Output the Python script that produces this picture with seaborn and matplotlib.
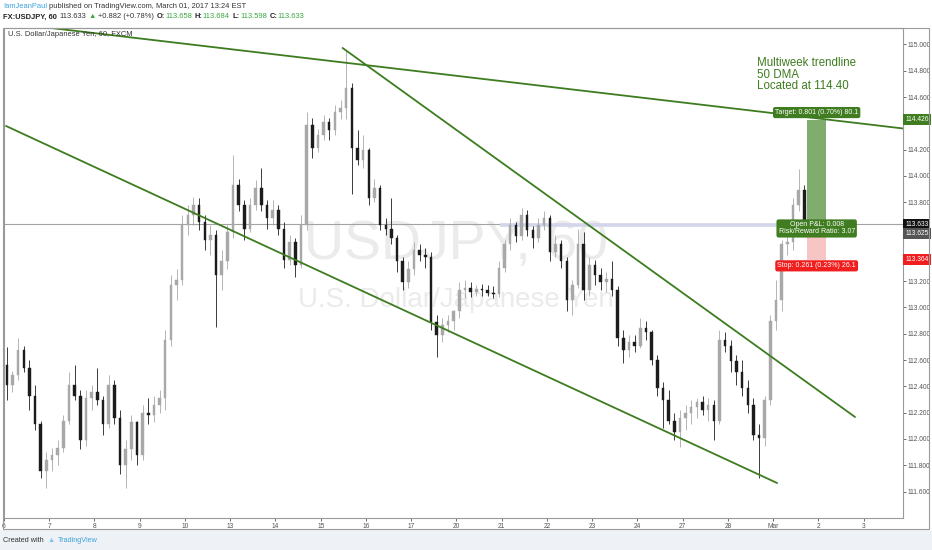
import numpy as np
import pandas as pd
import matplotlib
matplotlib.use('Agg')
import matplotlib.pyplot as plt
import seaborn as sns
from matplotlib.patches import Rectangle

sns.set_theme(style='white')
plt.rcParams['font.family'] = ['Liberation Sans', 'DejaVu Sans']

# USDJPY candles (8 candles per trading day)
opens = [
    112.56, 112.41, 112.49, 112.68, 112.54, 112.33, 112.11, 111.76,
    111.84, 111.88, 111.93, 112.14, 112.41, 112.33, 111.99, 112.31,
    112.36, 112.30, 112.11, 112.41, 112.16, 111.80, 111.92, 112.13,
    111.88, 112.20, 112.18, 112.26, 112.31, 112.75, 113.17, 113.21,
    113.63, 113.70, 113.78, 113.65, 113.51, 113.55, 113.25, 113.35,
    113.57, 113.93, 113.78, 113.60, 113.78, 113.91, 113.78, 113.68,
    113.74, 113.60, 113.36, 113.50, 113.32, 113.63, 114.39, 114.21,
    114.31, 114.41, 114.35, 114.49, 114.52, 114.67, 114.21, 114.12,
    114.20, 113.83, 113.91, 113.63, 113.60, 113.53, 113.35, 113.19,
    113.29, 113.44, 113.40, 113.38, 112.89, 112.79, 112.87, 112.90,
    112.97, 113.13, 113.15, 113.12, 113.14, 113.13, 113.11, 113.10,
    113.30, 113.48, 113.63, 113.54, 113.70, 113.59, 113.53, 113.63,
    113.68, 113.42, 113.48, 113.35, 113.06, 113.17, 113.48, 113.13,
    113.32, 113.25, 113.19, 113.22, 113.13, 112.77, 112.68, 112.74,
    112.71, 112.84, 112.81, 112.60, 112.39, 112.30, 112.14, 112.05,
    112.16, 112.20, 112.24, 112.28, 112.22, 112.26, 112.14, 112.75,
    112.71, 112.59, 112.51, 112.39, 112.26, 112.03, 112.01, 112.30,
    112.90, 113.06, 113.48, 113.50, 113.78, 113.89,
]
highs = [
    112.70, 112.52, 112.77, 112.71, 112.60, 112.41, 112.14, 111.90,
    111.93, 111.99, 112.18, 112.51, 112.56, 112.37, 112.37, 112.41,
    112.54, 112.33, 112.49, 112.45, 112.22, 111.99, 112.18, 112.14,
    112.26, 112.31, 112.33, 112.37, 112.83, 113.25, 113.29, 113.70,
    113.78, 113.84, 113.83, 113.70, 113.63, 113.59, 113.44, 113.63,
    114.16, 113.98, 113.82, 113.83, 113.97, 114.06, 113.82, 113.82,
    113.78, 113.65, 113.55, 113.53, 113.70, 114.49, 114.44, 114.36,
    114.46, 114.44, 114.54, 114.58, 114.96, 114.71, 114.35, 114.31,
    114.21, 113.98, 113.93, 113.68, 113.83, 113.55, 113.38, 113.35,
    113.50, 113.48, 113.45, 113.42, 112.94, 112.92, 112.94, 112.98,
    113.19, 113.21, 113.19, 113.17, 113.18, 113.17, 113.16, 113.35,
    113.51, 113.68, 113.65, 113.76, 113.74, 113.62, 113.68, 113.73,
    113.70, 113.55, 113.51, 113.38, 113.21, 113.60, 113.57, 113.38,
    113.36, 113.30, 113.27, 113.35, 113.16, 112.83, 112.79, 112.79,
    112.92, 112.90, 112.83, 112.64, 112.43, 112.37, 112.20, 112.22,
    112.26, 112.30, 112.31, 112.33, 112.31, 112.30, 112.83, 112.81,
    112.75, 112.64, 112.60, 112.45, 112.31, 112.11, 112.33, 112.94,
    113.21, 113.51, 113.57, 113.83, 114.05, 113.93,
]
lows = [
    112.30, 112.36, 112.45, 112.51, 112.22, 112.07, 111.70, 111.63,
    111.76, 111.80, 111.90, 112.11, 112.30, 111.92, 111.95, 112.22,
    112.26, 112.03, 112.08, 112.11, 111.73, 111.63, 111.84, 111.80,
    111.84, 112.11, 112.13, 112.20, 112.22, 112.71, 113.06, 113.17,
    113.55, 113.63, 113.59, 113.44, 113.40, 112.85, 113.13, 113.29,
    113.53, 113.73, 113.51, 113.57, 113.74, 113.73, 113.60, 113.63,
    113.55, 113.30, 113.32, 113.23, 113.30, 113.59, 114.14, 114.18,
    114.27, 114.27, 114.31, 114.43, 114.43, 113.86, 114.08, 114.06,
    113.78, 113.80, 113.59, 113.55, 113.48, 113.27, 113.13, 113.15,
    113.25, 113.35, 113.30, 112.83, 112.62, 112.74, 112.81, 112.83,
    112.92, 113.07, 113.08, 113.09, 113.09, 113.09, 113.07, 113.08,
    113.27, 113.44, 113.50, 113.51, 113.54, 113.45, 113.50, 113.59,
    113.35, 113.38, 113.30, 112.97, 112.94, 113.15, 113.06, 113.09,
    113.17, 113.13, 113.12, 113.09, 112.71, 112.58, 112.62, 112.66,
    112.69, 112.75, 112.56, 112.33, 112.08, 112.11, 111.99, 111.94,
    112.07, 112.11, 112.16, 112.18, 112.14, 111.99, 112.11, 112.66,
    112.51, 112.41, 112.33, 112.20, 111.99, 111.70, 111.95, 112.26,
    112.83, 112.97, 113.40, 113.44, 113.73, 113.62,
]
closes = [
    112.41, 112.49, 112.68, 112.54, 112.33, 112.11, 111.76, 111.84,
    111.88, 111.93, 112.14, 112.41, 112.33, 111.99, 112.31, 112.36,
    112.30, 112.11, 112.41, 112.16, 111.80, 111.92, 112.13, 111.88,
    112.20, 112.18, 112.26, 112.31, 112.75, 113.17, 113.21, 113.63,
    113.70, 113.78, 113.65, 113.51, 113.55, 113.25, 113.35, 113.57,
    113.93, 113.78, 113.60, 113.78, 113.91, 113.78, 113.68, 113.74,
    113.60, 113.36, 113.50, 113.32, 113.63, 114.39, 114.21, 114.31,
    114.41, 114.35, 114.49, 114.52, 114.67, 114.21, 114.12, 114.20,
    113.83, 113.91, 113.63, 113.60, 113.53, 113.35, 113.19, 113.29,
    113.44, 113.40, 113.38, 112.89, 112.79, 112.87, 112.90, 112.97,
    113.13, 113.15, 113.12, 113.14, 113.13, 113.11, 113.10, 113.30,
    113.48, 113.63, 113.54, 113.70, 113.59, 113.53, 113.63, 113.68,
    113.42, 113.48, 113.35, 113.06, 113.17, 113.48, 113.13, 113.32,
    113.25, 113.19, 113.22, 113.13, 112.77, 112.68, 112.74, 112.71,
    112.84, 112.81, 112.60, 112.39, 112.30, 112.14, 112.05, 112.16,
    112.20, 112.24, 112.28, 112.22, 112.26, 112.14, 112.75, 112.71,
    112.59, 112.51, 112.39, 112.26, 112.03, 112.01, 112.30, 112.90,
    113.06, 113.48, 113.50, 113.78, 113.89, 113.633,
]
bars_per_day = 8

day_labels = ['6', '7', '8', '9', '10', '13', '14', '15', '16', '17',
              '20', '21', '22', '23', '24', '27', '28', 'Mar', '2', '3']
price_ticks = [111.6, 111.8, 112.0, 112.2, 112.4, 112.6, 112.8, 113.0,
               113.2, 113.4, 113.6, 113.8, 114.0, 114.2, 114.4, 114.6,
               114.8, 115.0]
# scale labels hidden behind the highlighted price boxes
covered_ticks = [113.4, 113.6, 114.4]

# trendlines drawn on the chart: (day positions, prices)
trend_x = {'multiweek': [0.375, 19.868], 'channel_low': [0.044, 17.086],
           'channel_high': [7.483, 18.808]}
trend_y = {'multiweek': [115.152, 114.361], 'channel_low': [114.38, 111.665],
           'channel_high': [114.973, 112.167]}

last_price = 113.633
entry = 113.625
target = 114.426
stop = 113.364
position_days = [17.75, 18.17]

W, H = 932, 550
GREEN = '#3f7d20'

fig = plt.figure(figsize=(W / 100, H / 100), dpi=100, facecolor='white')
# bottom strip + outer frame
fig.patches.append(Rectangle((0, 0), 1, 20 / H, transform=fig.transFigure,
                             fc='#eef1f5', ec='none', zorder=0))
fig.patches.append(Rectangle((3 / W, 1 - 529 / H), 926 / W, 501 / H,
                             transform=fig.transFigure, fill=False,
                             ec='#9a9a9a', lw=0.8, zorder=1))

ax = fig.add_axes([4 / W, 1 - 518 / H, 899 / W, 490 / H])
ax.set_facecolor('white')

df = pd.DataFrame({'o': opens, 'h': highs, 'l': lows, 'c': closes})
df['x'] = (np.arange(len(df)) + 0.5) / bars_per_day
up = df['c'] >= df['o']
cols = np.where(up, '#a8a8a8', '#1c1c1c')

# watermark
ax.text(0.503, 0.557, 'USDJPY, 60', transform=ax.transAxes, ha='center',
        va='center', fontsize=40, color='#ebebeb', zorder=0)
ax.text(0.503, 0.445, 'U.S. Dollar/Japanese Yen', transform=ax.transAxes,
        ha='center', va='center', fontsize=20, color='#ebebeb', zorder=0)

# price lines
ax.axhline(last_price, color='#a3a3a3', lw=0.8, zorder=1)
ax.hlines(entry, 10.97, position_days[0], color='#d3d5ea', lw=2.6, zorder=1)

# candles
ax.vlines(df['x'], df['l'], df['h'], colors=cols, lw=0.6, zorder=3)
body_lo = np.minimum(df['o'], df['c'])
body_h = np.maximum((df['c'] - df['o']).abs(), 0.006)
ax.bar(df['x'], body_h, bottom=body_lo, width=0.45 / bars_per_day,
       color=cols, edgecolor=cols, linewidth=0.3, zorder=4)

# trendlines
for name in trend_x:
    tl = pd.DataFrame({'day': trend_x[name], 'price': trend_y[name]})
    sns.lineplot(data=tl, x='day', y='price', ax=ax, color='#3d7c1f',
                 lw=1.3, zorder=5)

# long position tool
pw = position_days[1] - position_days[0]
ax.add_patch(Rectangle((position_days[0], entry), pw, target - entry,
                       fc='#80ad6e', ec='none', zorder=3))
ax.add_patch(Rectangle((position_days[0], stop), pw, entry - stop,
                       fc='#f8c5c5', ec='none', zorder=3))
mid = position_days[0] + pw / 2
box = 'round,pad=0.3,rounding_size=0.3'
ax.annotate('Target: 0.801 (0.70%) 80.1', xy=(mid, target), xytext=(0, 5.3),
            textcoords='offset points', ha='center', va='center', fontsize=5,
            color='white', zorder=8, annotation_clip=False,
            bbox=dict(boxstyle=box, fc=GREEN, ec='none'))
ax.annotate('Open P&L: 0.008\nRisk/Reward Ratio: 3.07', xy=(mid, entry),
            xytext=(0, -2.3), textcoords='offset points', ha='center',
            va='center', fontsize=5, color='white', linespacing=1.0, zorder=8,
            annotation_clip=False, bbox=dict(boxstyle=box, fc=GREEN, ec='none'))
ax.annotate('Stop: 0.261 (0.23%) 26.1', xy=(mid, stop), xytext=(0, -4.5),
            textcoords='offset points', ha='center', va='center', fontsize=5,
            color='white', zorder=8, annotation_clip=False,
            bbox=dict(boxstyle=box, fc='#f01e1e', ec='none'))

# axes styling
ax.set_xlim(0.022, 19.868)
ax.set_ylim(111.399, 115.125)
ax.set_xlabel('')
ax.set_ylabel('')
ax.set_xticks(range(len(day_labels)))
ax.set_xticklabels(day_labels)
ax.yaxis.tick_right()
ax.set_yticks(price_ticks)
ax.set_yticklabels(['' if p in covered_ticks else f'{p:.3f}' for p in price_ticks])
ax.tick_params(axis='both', labelsize=4.8, colors='#555555', length=1.8,
               width=0.6, pad=1.5, direction='out')
ax.tick_params(axis='y', right=True, left=False)
ax.tick_params(axis='x', bottom=True)
for sp in ax.spines.values():
    sp.set_color('#9a9a9a')
    sp.set_linewidth(0.8)

# highlighted price labels on the scale
ytr = ax.get_yaxis_transform()
for val, off, fc in [(target, 0, GREEN), (last_price, 0, '#111111'),
                     (entry, -5.8, '#555555'), (stop, 0, '#f01e1e')]:
    ax.annotate(f'{val:.3f}', xy=(1, val), xycoords=ytr, xytext=(1.6, off),
                textcoords='offset points', ha='left', va='center',
                fontsize=4.8, color='white', zorder=9, annotation_clip=False,
                bbox=dict(boxstyle='square,pad=0.3', fc=fc, ec='none'))

# comment text
for y_px, s in [(63, 'Multiweek trendline'), (74.5, '50 DMA'), (86, 'Located at 114.40')]:
    fig.text(757 / W, 1 - y_px / H, s, fontsize=8.3, color='#3d7c1f',
             ha='left', va='center')

# header lines
renderer = fig.canvas.get_renderer()


def header_line(y_px, parts, x_px=3, size=5.4):
    for s, col, wt, gap in parts:
        t = fig.text(x_px / W, 1 - y_px / H, s, fontsize=size, color=col,
                     fontweight=wt, ha='left', va='center')
        x_px += t.get_window_extent(renderer=renderer).width + gap


dark = '#333333'
up_green = '#3aa640'
header_line(6, [('IamJeanPaul', '#3ba3db', 'normal', 2),
                ('published on TradingView.com, March 01, 2017 13:24 EST', dark, 'normal', 0)])
header_line(17, [('FX:USDJPY, 60', '#222222', 'bold', 3),
                 ('113.633', dark, 'normal', 2),
                 ('\u25b2', up_green, 'normal', 2),
                 ('+0.882 (+0.78%)', dark, 'normal', 2.5),
                 ('O:', '#222222', 'bold', 0.5), ('113.658', up_green, 'normal', 2.5),
                 ('H:', '#222222', 'bold', 0.5), ('113.684', up_green, 'normal', 2.5),
                 ('L:', '#222222', 'bold', 0.5), ('113.598', up_green, 'normal', 2.5),
                 ('C:', '#222222', 'bold', 0.5), ('113.633', up_green, 'normal', 0)])
fig.text(8 / W, 1 - 34 / H, 'U.S. Dollar/Japanese Yen, 60, FXCM', fontsize=5.4,
         color=dark, ha='left', va='center')

# footer
header_line(540, [('Created with', dark, 'normal', 4),
                  ('\u25b2', '#7cc4ea', 'normal', 3),
                  ('TradingView', '#3ba3db', 'normal', 0)], size=5.2)

fig.savefig('out.png', dpi=100, facecolor=fig.get_facecolor())
